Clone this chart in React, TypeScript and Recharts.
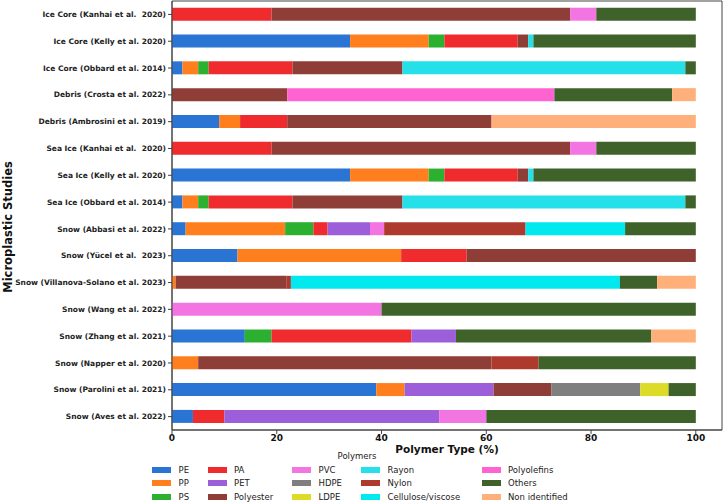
import React from "react";
import { Bar, BarChart, Label, ReferenceArea, XAxis, YAxis } from "recharts";

const studies = [
  "Ice Core (Kanhai et al.  2020)",
  "Ice Core (Kelly et al. 2020)",
  "Ice Core (Obbard et al. 2014)",
  "Debris (Crosta et al. 2022)",
  "Debris (Ambrosini et al. 2019)",
  "Sea Ice (Kanhai et al.  2020)",
  "Sea Ice (Kelly et al. 2020)",
  "Sea Ice (Obbard et al. 2014)",
  "Snow (Abbasi et al. 2022)",
  "Snow (Yücel et al.  2023)",
  "Snow (Villanova-Solano et al. 2023)",
  "Snow (Wang et al. 2022)",
  "Snow (Zhang et al. 2021)",
  "Snow (Napper et al. 2020)",
  "Snow (Parolini et al. 2021)",
  "Snow (Aves et al. 2022)",
];

const polymers = [
  "PE", "PP", "PS", "PA", "PET", "Polyester", "PVC", "HDPE", "LDPE",
  "Rayon", "Nylon", "Cellulose/viscose", "Polyolefins", "Others", "Non identified",
];

const colors = [
  "#2a75d3", "#ff7f1e", "#2bb02f", "#ef2b2e", "#9c5fd9", "#8e3d37", "#f375e1", "#7f7f7f", "#dcdc28",
  "#25dfe9", "#ae3a2e", "#00e9ef", "#ff63d1", "#3f622b", "#ffb07a",
];

const PE = [0, 34, 2, 0, 9, 0, 34, 2, 2.6, 12.5, 0, 0, 13.9, 0, 39, 4];
const PP = [0, 15, 3, 0, 4, 0, 15, 3, 19, 31.25, 0.7, 0, 0, 5, 5.4, 0];
const PS = [0, 3, 2, 0, 0, 0, 3, 2, 5.4, 0, 0, 0, 5.1, 0, 0, 0];
const PA = [19, 14, 16, 0, 9, 19, 14, 16, 2.7, 12.5, 0, 0, 26.7, 0, 0, 6];
const PET = [0, 0, 0, 0, 0, 0, 0, 0, 8.1, 0, 0, 0, 8.5, 0, 17, 41];
const Polyester = [57, 2, 21, 22, 39, 57, 2, 21, 0, 43.75, 21.1, 0, 0, 56, 11, 0];
const PVC = [5, 0, 0, 0, 0, 5, 0, 0, 2.7, 0, 0, 40, 0, 0, 0, 9];
const HDPE = [0, 0, 0, 0, 0, 0, 0, 0, 0, 0, 0, 0, 0, 0, 17, 0];
const LDPE = [0, 0, 0, 0, 0, 0, 0, 0, 0, 0, 0, 0, 0, 0, 5.4, 0];
const Rayon = [0, 1, 54, 0, 0, 0, 1, 54, 0, 0, 0, 0, 0, 0, 0, 0];
const Nylon = [0, 0, 0, 0, 0, 0, 0, 0, 27, 0, 0.9, 0, 0, 9, 0, 0];
const Cellulose = [0, 0, 0, 0, 0, 0, 0, 0, 19, 0, 62.8, 0, 0, 0, 0, 0];
const Polyolefins = [0, 0, 0, 51, 0, 0, 0, 0, 0, 0, 0, 0, 0, 0, 0, 0];
const Others = [19, 31, 2, 22.5, 0, 19, 31, 2, 13.5, 0, 7.1, 60, 37.3, 30, 5.2, 40];
const NonIdentified = [0, 0, 0, 4.5, 39, 0, 0, 0, 0, 0, 7.4, 0, 8.5, 0, 0, 0];

const series = [PE, PP, PS, PA, PET, Polyester, PVC, HDPE, LDPE, Rayon, Nylon, Cellulose, Polyolefins, Others, NonIdentified];

const xTicks = [0, 20, 40, 60, 80, 100];

// keys without spaces/slashes for the data table
const keys = polymers.map((_, j) => `s${j}`);

const data = studies.map((study, i) => {
  const row: Record<string, string | number> = { study };
  keys.forEach((k, j) => {
    row[k] = series[j][i];
  });
  return row;
});

const font = "DejaVu Sans";
const legendCols = [152, 207.5, 292, 361, 481.5];

function StudyTick(props: any) {
  const { x, y, payload } = props;
  return (
    <text
      x={x}
      y={y}
      dy="0.35em"
      textAnchor="end"
      fontSize={7.5}
      fontWeight="bold"
      fill="#222"
      fontFamily={font}
      style={{ whiteSpace: "pre" }}
    >
      {payload.value}
    </text>
  );
}

export default function App() {
  return (
    <div style={{ position: "absolute", left: 0, top: 0, width: 724, height: 503, background: "#fff", fontFamily: font }}>
      <BarChart
        width={724}
        height={503}
        data={data}
        layout="vertical"
        margin={{ top: 1, right: 2, bottom: 57, left: 0 }}
        barCategoryGap="25%"
      >
        <XAxis
          type="number"
          domain={[0, 105]}
          ticks={xTicks}
          height={16}
          tickSize={4}
          tickMargin={1}
          stroke="#444"
          tick={{ fontSize: 9, fontWeight: "bold", fill: "#111", fontFamily: font }}
        >
          <Label
            value="Polymer Type (%)"
            position="bottom"
            offset={0}
            style={{ fontSize: 10.5, fontWeight: "bold", fill: "#111", fontFamily: font }}
          />
        </XAxis>
        <YAxis
          type="category"
          dataKey="study"
          width={172}
          tickSize={4}
          tickMargin={2}
          stroke="#444"
          interval={0}
          tick={<StudyTick />}
        >
          <Label
            content={() => (
              <text
                x={12}
                y={227}
                transform="rotate(-90 12 227)"
                textAnchor="middle"
                fontSize={11.5}
                fontWeight="bold"
                fill="#111"
                fontFamily={font}
              >
                Microplastic Studies
              </text>
            )}
          />
        </YAxis>
        {keys.map((k, j) => (
          <Bar
            key={k}
            dataKey={k}
            name={polymers[j]}
            stackId="a"
            fill={colors[j]}
            isAnimationActive={false}
          />
        ))}
        <ReferenceArea x1={0} x2={105} fill="none" stroke="#444" strokeWidth={1} ifOverflow="visible" />
      </BarChart>
      <div
        style={{
          position: "absolute",
          left: 307,
          width: 100,
          top: 450,
          textAlign: "center",
          fontSize: 8.5,
          color: "#222",
          lineHeight: "12px",
        }}
      >
        Polymers
      </div>
      {polymers.map((p, j) => {
        const col = Math.floor(j / 3);
        const r = j % 3;
        return (
          <div
            key={p}
            style={{
              position: "absolute",
              left: legendCols[col],
              top: 463.5 + r * 13.6,
              height: 12,
              display: "flex",
              alignItems: "center",
              fontSize: 8.5,
              color: "#222",
              whiteSpace: "nowrap",
            }}
          >
            <span style={{ display: "inline-block", width: 19, height: 6, background: colors[j], marginRight: 7.5 }} />
            {p}
          </div>
        );
      })}
    </div>
  );
}
